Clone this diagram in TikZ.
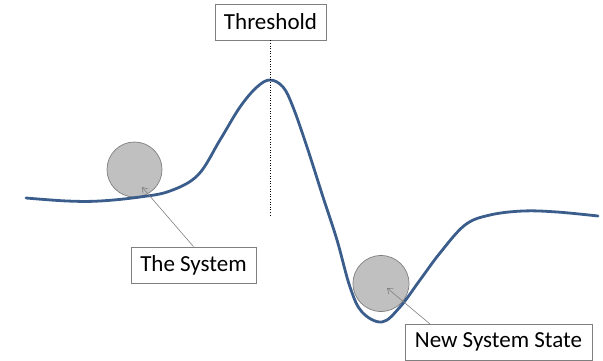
\documentclass[tikz,border=0pt]{standalone}
\usepackage{fontspec}
\setmainfont{Carlito}
\usepackage{tikz}
\usetikzlibrary{arrows.meta}

\definecolor{curveblue}{HTML}{3A5D8C}
\definecolor{ballgray}{HTML}{C0C0C0}
\definecolor{edgegray}{HTML}{7F7F7F}

\tikzset{
  label box/.style={draw=edgegray,line width=0.8pt,fill=white,inner sep=0pt,
    minimum height=36pt,font=\fontsize{23}{27}\selectfont},
  ball/.style={circle,draw=edgegray,line width=0.7pt,fill=ballgray,inner sep=0pt},
  pointer/.style={->,draw=gray,line width=0.6pt}
}

\begin{document}
\begin{tikzpicture}[x=1pt,y=-1pt,>={Straight Barb[length=5pt,width=7pt]}]
  \useasboundingbox (0,0) rectangle (603,361);
  % balls sitting on the landscape
  \node[ball,minimum size=55pt] (oldball) at (134.5,169.5) {};
  \node[ball,minimum size=56pt] (newball) at (381,283.5) {};
  % potential landscape
  \draw[curveblue,line width=2.8pt,line cap=round] plot[smooth,tension=0.6] coordinates {
    (26,198) (67,201) (100,201) (140,197) (170,191) (198,175) (220,140)
    (240,107) (257,87) (270,80) (283,87) (293,107) (307,147) (323,197)
    (337,240) (350,287) (362,312) (382,322) (400,307) (420,280)
    (440,253) (465,225) (490,215) (523,211) (557,212) (598,216)};
  % threshold marker
  \node[label box,minimum width=111pt] (thr) at (270.5,22) {Threshold};
  \coordinate (thrbase) at (270.5,217);
  \draw[dotted,line width=0.6pt] (thr.south) -- (thrbase);
  % labels with pointers
  \node[label box,minimum width=125pt] (sys) at (193.5,265) {The System};
  \node[label box,minimum width=187pt] (newsys) at (498.5,342) {New System State};
  \coordinate (oldtip) at (142,187);
  \coordinate (newtip) at (387,288);
  \coordinate (newtail) at (430,324);
  \draw[pointer] (sys.north) -- (oldtip);
  \draw[pointer] (newtail) -- (newtip);
\end{tikzpicture}
\end{document}
